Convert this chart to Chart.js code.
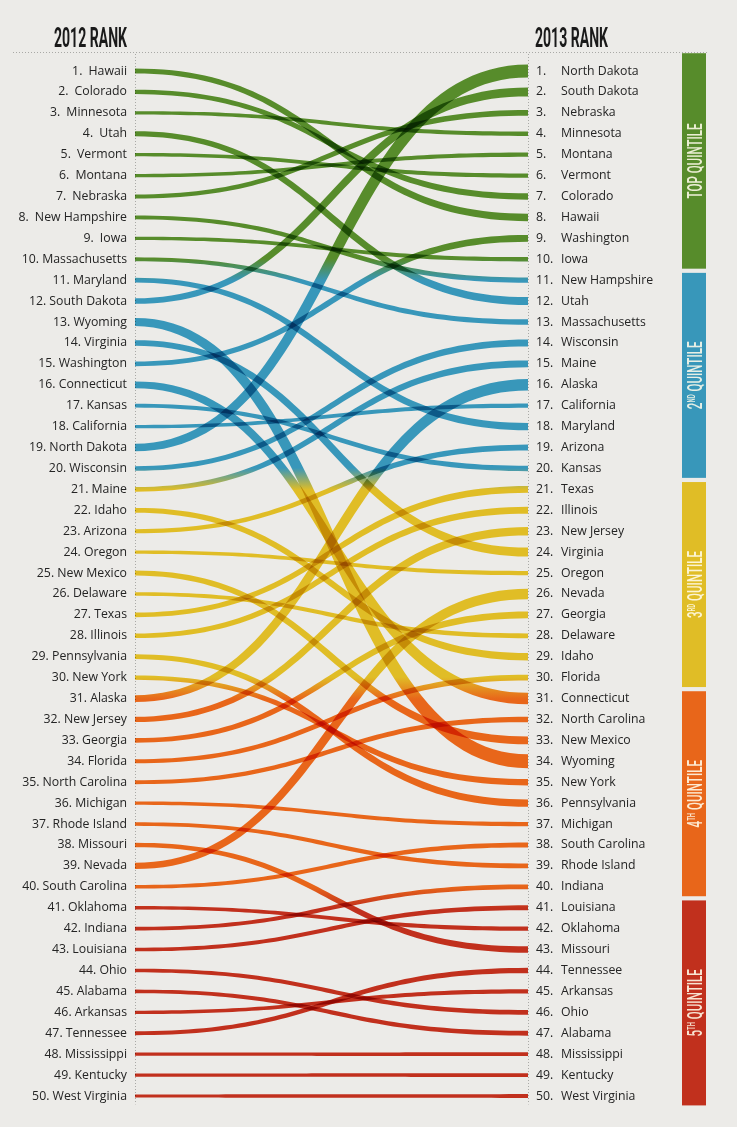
<!DOCTYPE html>
<html>
<head>
<meta charset="utf-8">
<title>2012 / 2013 Rank</title>
<script src="https://cdn.jsdelivr.net/npm/chart.js@4.4.1/dist/chart.umd.min.js"></script>
<style>
  html, body { margin: 0; padding: 0; background: #ecebe8; }
  #wrap { position: relative; width: 737px; height: 1127px; }
</style>
</head>
<body>
<div id="wrap"><canvas id="rankChart"></canvas></div>
<script>
// 2012 order (index = rank - 1)
const states2012 = [
  'Hawaii', 'Colorado', 'Minnesota', 'Utah', 'Vermont', 'Montana', 'Nebraska', 'New Hampshire', 'Iowa', 'Massachusetts',
  'Maryland', 'South Dakota', 'Wyoming', 'Virginia', 'Washington', 'Connecticut', 'Kansas', 'California', 'North Dakota', 'Wisconsin',
  'Maine', 'Idaho', 'Arizona', 'Oregon', 'New Mexico', 'Delaware', 'Texas', 'Illinois', 'Pennsylvania', 'New York',
  'Alaska', 'New Jersey', 'Georgia', 'Florida', 'North Carolina', 'Michigan', 'Rhode Island', 'Missouri', 'Nevada', 'South Carolina',
  'Oklahoma', 'Indiana', 'Louisiana', 'Ohio', 'Alabama', 'Arkansas', 'Tennessee', 'Mississippi', 'Kentucky', 'West Virginia'
];
// 2013 rank of each state above
const rank2013 = [
  8, 7, 4, 12, 6, 5, 3, 11, 10, 13,
  18, 2, 34, 24, 9, 31, 20, 17, 1, 14,
  15, 29, 19, 25, 33, 28, 21, 22, 36, 35,
  16, 23, 27, 30, 32, 37, 39, 43, 26, 38,
  42, 40, 41, 46, 47, 45, 44, 48, 49, 50
];
const yearTitles = ['2012 RANK', '2013 RANK'];
const quintileLabels = [['TOP', ''], ['2', 'ND'], ['3', 'RD'], ['4', 'TH'], ['5', 'TH']];

const quintileColors = ['#578c2b', '#3897ba', '#e0bd26', '#e8661a', '#c1301d'];
const textColor = '#242424';
const labelFont = { family: "'Open Sans', sans-serif", size: 12.3 };

// 2013 names, looked up from the 2012 list
const states2013 = [];
rank2013.forEach((r, i) => { states2013[r - 1] = states2012[i]; });

const datasets = states2012.map((name, i) => ({
  label: name,
  data: [{ x: 2012, y: i + 1 }, { x: 2013, y: rank2013[i] }],
  showLine: false,
  pointRadius: 0
}));

function bandGradient(ctx, y) {
  const top = y.getPixelForValue(0.5);
  const bottom = y.getPixelForValue(50.5);
  const span = bottom - top;
  const soft = 11;
  const g = ctx.createLinearGradient(0, top, 0, bottom);
  quintileColors.forEach((c, q) => {
    const a = y.getPixelForValue(q * 10 + 0.5) + (q === 0 ? 0 : soft);
    const b = y.getPixelForValue(q * 10 + 10.5) - (q === 4 ? 0 : soft);
    g.addColorStop(Math.max(0, (a - top) / span), c);
    g.addColorStop(Math.min(1, (b - top) / span), c);
  });
  return g;
}

// sigmoid ribbon, widening from left to right
function ribbon(ctx, x0, y0, x1, y1, w0, w1) {
  const c = (x1 - x0) * 0.5;
  const n = 60;
  const upper = [], lower = [];
  for (let i = 0; i <= n; i++) {
    const t = i / n, u = 1 - t;
    const px = u * u * u * x0 + 3 * u * u * t * (x0 + c) + 3 * u * t * t * (x1 - c) + t * t * t * x1;
    const py = u * u * u * y0 + 3 * u * u * t * y0 + 3 * u * t * t * y1 + t * t * t * y1;
    const dx = 3 * u * u * c + 6 * u * t * (x1 - x0 - 2 * c) + 3 * t * t * c;
    const dy = 6 * u * t * (y1 - y0);
    const len = Math.hypot(dx, dy) || 1;
    const h = (w0 + (w1 - w0) * (px - x0) / (x1 - x0)) / 2;
    upper.push([px - dy / len * h, py + dx / len * h]);
    lower.push([px + dy / len * h, py - dx / len * h]);
  }
  ctx.beginPath();
  ctx.moveTo(upper[0][0], upper[0][1]);
  upper.forEach(p => ctx.lineTo(p[0], p[1]));
  for (let i = lower.length - 1; i >= 0; i--) ctx.lineTo(lower[i][0], lower[i][1]);
  ctx.closePath();
  ctx.fill();
}

const ribbonPlugin = {
  id: 'ribbons',
  beforeDatasetsDraw(chart) {
    const { ctx, chartArea, scales: { y } } = chart;
    const top = chartArea.top - 17, bottom = y.getPixelForValue(50.4);
    ctx.save();
    ctx.strokeStyle = '#a9a9a6';
    ctx.lineWidth = 1;
    ctx.setLineDash([1, 2]);
    ctx.beginPath();
    ctx.moveTo(13, top - 1.5); ctx.lineTo(708, top - 1.5);
    [chartArea.left, chartArea.right].forEach(x => {
      ctx.moveTo(Math.round(x) + 0.5, top); ctx.lineTo(Math.round(x) + 0.5, bottom);
    });
    ctx.stroke();
    ctx.restore();
  },
  afterDatasetsDraw(chart) {
    const { ctx, scales: { y } } = chart;
    ctx.save();
    ctx.globalCompositeOperation = 'multiply';
    ctx.fillStyle = bandGradient(ctx, y);
    chart.data.datasets.forEach((ds, i) => {
      const pts = chart.getDatasetMeta(i).data;
      const d = Math.abs(ds.data[1].y - ds.data[0].y);
      const w0 = 3.1 + 0.24 * d;
      const w1 = Math.min(14, 3.8 + 0.52 * d);
      ribbon(ctx, pts[0].x, pts[0].y, pts[1].x, pts[1].y, w0, w1);
    });
    ctx.restore();
  },
  afterDraw(chart) {
    const { ctx, chartArea, scales: { y } } = chart;
    ctx.save();
    // year headers, condensed
    ctx.fillStyle = '#1a1a1a';
    ctx.font = "bold 28px Roboto";
    ctx.textBaseline = 'alphabetic';
    const base = chartArea.top - 24;
    [[yearTitles[0], chartArea.left - 8, 'right'], [yearTitles[1], chartArea.right + 7, 'left']].forEach(([txt, x, align]) => {
      const sx = 73 / ctx.measureText(txt).width;
      ctx.save();
      ctx.translate(x, base);
      ctx.scale(sx, 1);
      ctx.textAlign = align;
      ctx.fillText(txt, 0, 0);
      ctx.restore();
    });

    // quintile bar
    const bx = chart.width - 55, bw = 24;
    ctx.font = "500 21px Roboto";
    const sx = 75 / ctx.measureText('TOP QUINTILE').width;
    quintileColors.forEach((c, q) => {
      const t = y.getPixelForValue(q === 0 ? 0.15 : q * 10 + 0.65);
      const b = y.getPixelForValue(q * 10 + 10.45);
      ctx.fillStyle = c;
      ctx.fillRect(bx, t, bw, b - t);

      const [num, sup] = quintileLabels[q];
      const rest = ' QUINTILE';
      ctx.font = "500 21px Roboto";
      const wNum = ctx.measureText(num).width;
      const wRest = ctx.measureText(rest).width;
      ctx.font = "500 11px Roboto";
      const wSup = sup ? ctx.measureText(sup).width : 0;
      const total = wNum + wSup + wRest;
      ctx.save();
      ctx.translate(bx + bw / 2, (t + b) / 2);
      ctx.rotate(-Math.PI / 2);
      ctx.scale(sx, 1);
      ctx.fillStyle = 'rgba(255, 252, 235, 0.88)';
      ctx.textAlign = 'left';
      ctx.textBaseline = 'alphabetic';
      let x = -total / 2;
      ctx.font = "500 21px Roboto";
      ctx.fillText(num, x, 7.5);
      x += wNum;
      if (sup) {
        ctx.font = "500 11px Roboto";
        ctx.fillText(sup, x, 0.5);
        x += wSup;
      }
      ctx.font = "500 21px Roboto";
      ctx.fillText(rest, x, 7.5);
      ctx.restore();
    });
    ctx.restore();
  }
};

const rankAxis = {
  type: 'linear',
  reverse: true,
  min: 1,
  max: 50,
  grid: { display: false, drawTicks: false, tickLength: 0 },
  border: { display: false }
};

new Chart(document.getElementById('rankChart'), {
  type: 'scatter',
  data: { datasets: datasets },
  options: {
    responsive: true,
    maintainAspectRatio: false,
    animation: false,
    events: [],
    layout: { padding: { top: 71, bottom: 31, left: 0, right: 0 } },
    plugins: { legend: { display: false }, tooltip: { enabled: false } },
    scales: {
      x: { type: 'linear', min: 2012, max: 2013, display: false },
      y: {
        ...rankAxis,
        position: 'left',
        afterFit: s => { s.width = 135; },
        ticks: {
          stepSize: 1, autoSkip: false, padding: 8, color: textColor, font: labelFont,
          callback: v => v + '.' + (v < 10 ? '\u2002' : ' ') + states2012[v - 1]
        }
      },
      yNum: {
        ...rankAxis,
        position: 'right',
        afterFit: s => { s.width = 33; },
        ticks: {
          stepSize: 1, autoSkip: false, padding: 8, color: textColor, font: labelFont,
          callback: v => v + '.'
        }
      },
      yName: {
        ...rankAxis,
        position: 'right',
        afterFit: s => { s.width = 176; },
        ticks: {
          stepSize: 1, autoSkip: false, padding: 0, color: textColor, font: labelFont,
          callback: v => states2013[v - 1]
        }
      }
    }
  },
  plugins: [ribbonPlugin]
});
</script>
</body>
</html>
